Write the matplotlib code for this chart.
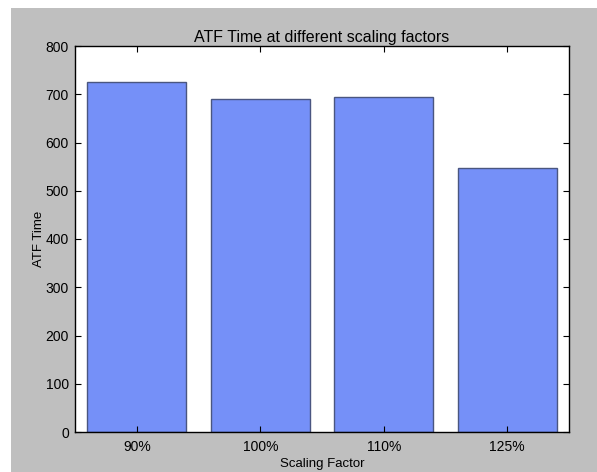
import matplotlib
matplotlib.use('Agg')
import matplotlib.pyplot as plt
from matplotlib.patches import Rectangle

factors = ['90%', '100%', '110%', '125%']
atf_time = [725, 690, 694, 547]

plt.rcParams['font.family'] = ['Liberation Sans', 'DejaVu Sans']

fig = plt.figure(figsize=(5.97, 4.72), dpi=100, facecolor='white')
# grey panel behind the axes, leaving a thin white strip on top and left
fig.patches.append(Rectangle((11 / 597, 0), 1, 1 - 8 / 472, transform=fig.transFigure,
                             facecolor='#bfbfbf', edgecolor='none', zorder=-10))

ax = fig.add_axes([75 / 597, 40 / 472, 494 / 597, 386 / 472])
ax.set_facecolor('white')

x = range(len(factors))
ax.bar(x, atf_time, width=0.8, color='#7590f8', edgecolor='#4a5680', linewidth=1)

ax.set_xlim(-0.5, 3.5)
ax.set_ylim(0, 800)
ax.set_xticks(list(x))
ax.set_xticklabels(factors)
ax.set_yticks(range(0, 801, 100))

ax.tick_params(direction='in', top=True, right=True, length=4, width=0.8,
               labelsize=10)
ax.tick_params(axis='y', pad=4.5)
ax.tick_params(axis='x', pad=6)
for s in ax.spines.values():
    s.set_linewidth(1)

ax.set_title('ATF Time at different scaling factors', fontsize=11.5, pad=3)
ax.set_xlabel('Scaling Factor', fontsize=9.5, labelpad=3)
ax.set_ylabel('ATF Time', fontsize=9.5, labelpad=0.5)

fig.savefig('out.png', dpi=100)
